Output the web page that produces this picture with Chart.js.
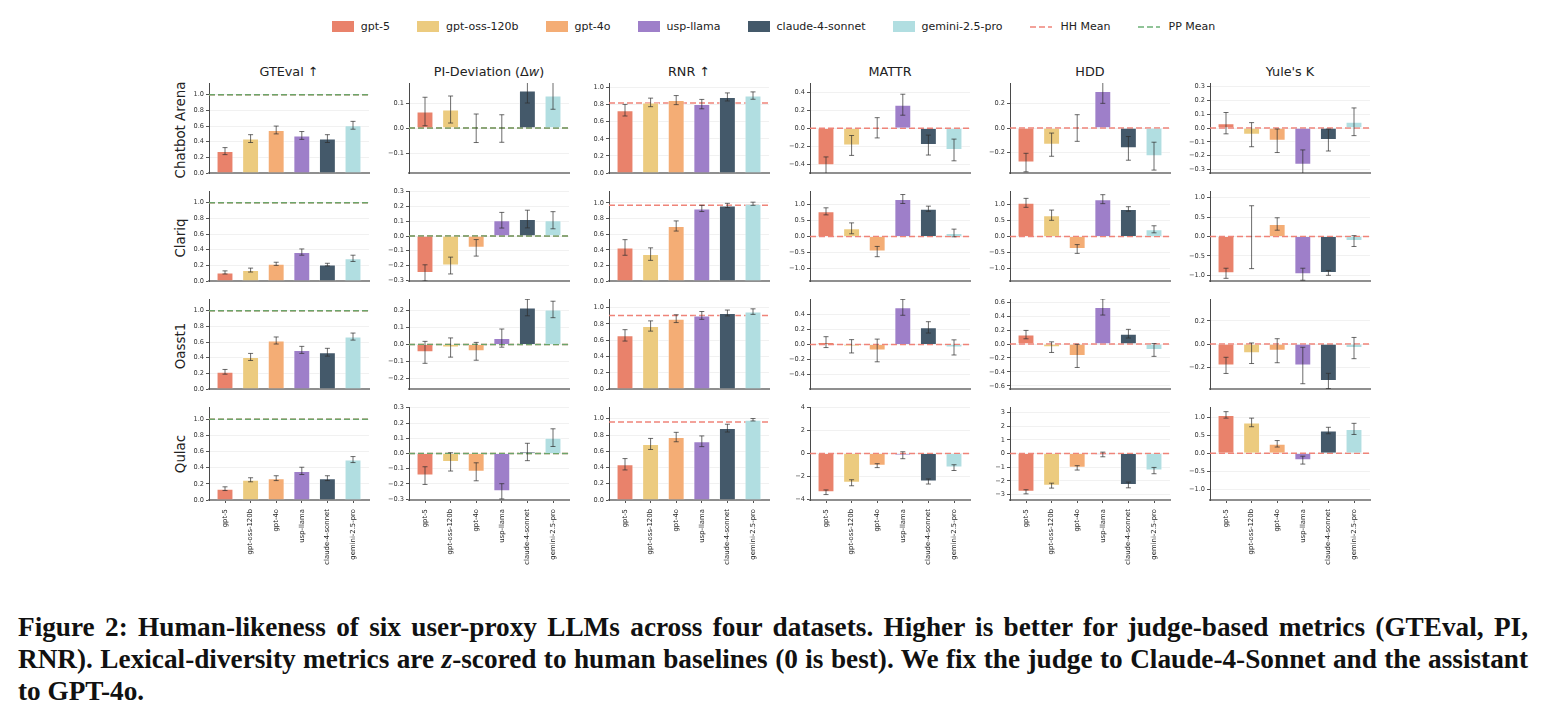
<!DOCTYPE html>
<html lang="en">
  <head>
    <meta charset="UTF-8" />
    <title>Human-likeness of user-proxy LLMs</title>
    <script src="https://cdn.jsdelivr.net/npm/chart.js"></script>
    <style>
      body { margin: 0; background: #fff; width: 1547px; height: 717px; position: relative; overflow: hidden; font-family: "DejaVu Sans", sans-serif; color: #222; }
      .legend { position: absolute; top: 20px; left: 0; width: 1547px; display: flex; justify-content: center; gap: 27px; font-size: 11px; }
      .legend .item { display: flex; align-items: center; }
      .legend .sw { width: 22px; height: 11px; margin-right: 7px; }
      .legend svg { margin-right: 9px; }
      .col-title { position: absolute; top: 64px; font-size: 12.8px; text-align: center; }
      .row-label { position: absolute; font-size: 13.4px; white-space: nowrap; transform: translate(-50%, -50%) rotate(-90deg); }
      canvas { position: absolute; }
      .caption { position: absolute; left: 18px; top: 611px; width: 1510px; font-family: "Liberation Serif", serif; font-weight: bold; line-height: 32px; color: #111; }
      .caption div { white-space: nowrap; }
      .caption .just { text-align: justify; text-align-last: justify; white-space: normal; }
    </style>
  </head>
  <body>
    <div class="legend" id="legend"></div>
    <div class="caption" id="caption">
      <div class="just">Figure 2: Human-likeness of six user-proxy LLMs across four datasets. Higher is better for judge-based metrics (GTEval, PI,</div>
      <div class="just">RNR). Lexical-diversity metrics are <i>z</i>-scored to human baselines (0 is best). We fix the judge to Claude-4-Sonnet and the assistant</div>
      <div>to GPT-4o.</div>
    </div>

    <script>
      // ---- data ----
      const models = ['gpt-5', 'gpt-oss-120b', 'gpt-4o', 'usp-llama', 'claude-4-sonnet', 'gemini-2.5-pro'];
      const modelColors = ['#E9826B', '#ECCB7F', '#F4AD75', '#9E7FC9', '#44596A', '#B1DEE1'];
      const datasetNames = ['Chatbot Arena', 'Clariq', 'Oasst1', 'Qulac'];

      // rows = datasets, columns = models
      const gtevalMean = [
        [0.28, 0.44, 0.55, 0.48, 0.44, 0.61],
        [0.11, 0.14, 0.22, 0.37, 0.21, 0.29],
        [0.22, 0.41, 0.62, 0.50, 0.47, 0.67],
        [0.14, 0.25, 0.27, 0.36, 0.27, 0.50]
      ];
      const gtevalErr = [
        [0.045, 0.05, 0.05, 0.05, 0.05, 0.05],
        [0.02, 0.025, 0.02, 0.04, 0.017, 0.04],
        [0.03, 0.045, 0.045, 0.045, 0.05, 0.045],
        [0.023, 0.025, 0.03, 0.045, 0.03, 0.037]
      ];
      const piMean = [
        [0.066, 0.074, -0.001, -0.002, 0.15, 0.13],
        [-0.25, -0.2, -0.08, 0.107, 0.115, 0.107],
        [-0.046, -0.018, -0.04, 0.037, 0.215, 0.204],
        [-0.145, -0.055, -0.12, -0.248, 0.01, 0.104]
      ];
      const piErr = [
        [0.057, 0.054, 0.057, 0.055, 0.05, 0.055],
        [0.055, 0.057, 0.056, 0.053, 0.06, 0.058],
        [0.064, 0.056, 0.052, 0.053, 0.048, 0.048],
        [0.058, 0.06, 0.059, 0.05, 0.057, 0.058]
      ];
      const rnrMean = [
        [0.735, 0.826, 0.853, 0.806, 0.89, 0.906],
        [0.43, 0.345, 0.705, 0.93, 0.968, 0.99],
        [0.66, 0.775, 0.865, 0.905, 0.935, 0.952],
        [0.44, 0.69, 0.775, 0.723, 0.885, 0.988]
      ];
      const rnrErr = [
        [0.068, 0.05, 0.053, 0.055, 0.047, 0.043],
        [0.1, 0.08, 0.065, 0.04, 0.027, 0.02],
        [0.07, 0.063, 0.048, 0.048, 0.036, 0.034],
        [0.07, 0.068, 0.058, 0.066, 0.048, 0.015]
      ];
      const mattrMean = [
        [-0.41, -0.19, 0.005, 0.26, -0.186, -0.24],
        [0.785, 0.255, -0.47, 1.17, 0.867, 0.11],
        [0.03, -0.025, -0.08, 0.49, 0.225, -0.04],
        [-3.35, -2.53, -1.05, -0.15, -2.42, -1.22]
      ];
      const mattrErr = [
        [0.093, 0.11, 0.112, 0.116, 0.11, 0.12],
        [0.11, 0.17, 0.16, 0.14, 0.08, 0.12],
        [0.072, 0.088, 0.15, 0.105, 0.075, 0.1],
        [0.2, 0.26, 0.17, 0.3, 0.22, 0.25]
      ];
      const hddMean = [
        [-0.28, -0.135, 0.0, 0.3, -0.165, -0.228],
        [1.05, 0.665, -0.39, 1.165, 0.86, 0.225],
        [0.135, -0.045, -0.17, 0.53, 0.148, -0.085],
        [-2.8, -2.35, -1.05, -0.07, -2.3, -1.25]
      ];
      const hddErr = [
        [0.075, 0.094, 0.108, 0.1, 0.096, 0.113],
        [0.14, 0.16, 0.137, 0.14, 0.07, 0.11],
        [0.06, 0.076, 0.166, 0.115, 0.062, 0.092],
        [0.15, 0.18, 0.16, 0.17, 0.21, 0.23]
      ];
      const yuleMean = [
        [0.035, -0.048, -0.092, -0.265, -0.087, 0.045],
        [-0.95, -0.02, 0.32, -0.975, -0.94, -0.12],
        [-0.185, -0.08, -0.058, -0.186, -0.32, -0.035],
        [1.07, 0.86, 0.265, -0.19, 0.635, 0.68]
      ];
      const yuleErr = [
        [0.077, 0.087, 0.085, 0.107, 0.079, 0.1],
        [0.13, 0.81, 0.16, 0.155, 0.063, 0.14],
        [0.07, 0.089, 0.104, 0.158, 0.066, 0.092],
        [0.09, 0.12, 0.09, 0.11, 0.09, 0.155]
      ];

      // reference means per dataset (null = not drawn)
      const gtevalHH = [1.0, 1.0, 1.0, 1.0];
      const gtevalPP = [1.0, 1.0, 1.0, 1.0];
      const piHH = [0, 0, 0, 0];
      const piPP = [0, 0, 0, 0];
      const rnrHH = [0.82, 0.97, 0.905, 0.96];
      const lexicalHH = [0, 0, 0, 0];
      const noLine = [null, null, null, null];

      // y tick labels and axis limits per dataset
      const gtevalTicks = [[0, 0.2, 0.4, 0.6, 0.8, 1.0], [0, 0.2, 0.4, 0.6, 0.8, 1.0], [0, 0.2, 0.4, 0.6, 0.8, 1.0], [0, 0.2, 0.4, 0.6, 0.8, 1.0]];
      const gtevalRange = [[0, 1.15], [0, 1.15], [0, 1.15], [0, 1.15]];
      const piTicks = [[-0.1, 0, 0.1], [-0.3, -0.2, -0.1, 0, 0.1, 0.2, 0.3], [-0.2, -0.1, 0, 0.1, 0.2], [-0.3, -0.2, -0.1, 0, 0.1, 0.2, 0.3]];
      const piRange = [[-0.18, 0.18], [-0.305, 0.305], [-0.26, 0.265], [-0.305, 0.305]];
      const rnrTicks = [[0, 0.2, 0.4, 0.6, 0.8, 1.0], [0, 0.2, 0.4, 0.6, 0.8, 1.0], [0, 0.2, 0.4, 0.6, 0.8, 1.0], [0, 0.2, 0.4, 0.6, 0.8, 1.0]];
      const rnrRange = [[0, 1.053], [0, 1.153], [0, 1.107], [0, 1.145]];
      const mattrTicks = [[-0.4, -0.2, 0, 0.2, 0.4], [-1, -0.5, 0, 0.5, 1], [-0.4, -0.2, 0, 0.2, 0.4], [-4, -2, 0, 2, 4]];
      const mattrRange = [[-0.495, 0.5], [-1.39, 1.42], [-0.59, 0.6], [-4.02, 4.02]];
      const hddTicks = [[-0.2, 0, 0.2], [-1, -0.5, 0, 0.5, 1], [-0.6, -0.4, -0.2, 0, 0.2, 0.4, 0.6], [-3, -2, -1, 0, 1, 2, 3]];
      const hddRange = [[-0.365, 0.365], [-1.39, 1.42], [-0.645, 0.645], [-3.4, 3.4]];
      const yuleTicks = [[-0.3, -0.2, -0.1, 0, 0.1, 0.2, 0.3], [-1, -0.5, 0, 0.5, 1], [-0.2, 0, 0.2], [-1, -0.5, 0, 0.5, 1]];
      const yuleRange = [[-0.325, 0.325], [-1.15, 1.17], [-0.39, 0.39], [-1.3, 1.29]];

      const metrics = [
        { title: 'GTEval ↑', mean: gtevalMean, err: gtevalErr, ticks: gtevalTicks, range: gtevalRange, hh: gtevalHH, pp: gtevalPP },
        { title: 'PI-Deviation (Δ<i>w</i>)', mean: piMean, err: piErr, ticks: piTicks, range: piRange, hh: piHH, pp: piPP },
        { title: 'RNR ↑', mean: rnrMean, err: rnrErr, ticks: rnrTicks, range: rnrRange, hh: rnrHH, pp: noLine },
        { title: 'MATTR', mean: mattrMean, err: mattrErr, ticks: mattrTicks, range: mattrRange, hh: lexicalHH, pp: noLine },
        { title: 'HDD', mean: hddMean, err: hddErr, ticks: hddTicks, range: hddRange, hh: lexicalHH, pp: noLine },
        { title: "Yule's K", mean: yuleMean, err: yuleErr, ticks: yuleTicks, range: yuleRange, hh: lexicalHH, pp: noLine }
      ];

      // ---- layout ----
      const PLOT_LEFT = 209, COL_STEP = 200.2, PLOT_W = 160;
      const PLOT_TOP = 83, ROW_STEP = 108, PLOT_H = 93;
      const Y_AXIS_W = 40, PAD_T = 6, X_LABEL_H = 72;
      const HH_COLOR = '#EF8479', PP_COLOR = 'rgba(92, 168, 104, 0.9)';

      Chart.defaults.font.family = '"DejaVu Sans", sans-serif';
      Chart.defaults.color = '#333';

      // dashed reference lines, behind the bars
      const refLinesPlugin = {
        id: 'refLines',
        beforeDatasetsDraw(chart, args, opts) {
          const { ctx, chartArea: a, scales: { y } } = chart;
          ctx.save();
          ctx.lineWidth = 1.5;
          ctx.setLineDash([6, 3]);
          [[opts.hh, HH_COLOR], [opts.pp, PP_COLOR]].forEach(([v, c]) => {
            if (v === null || v === undefined) return;
            const py = y.getPixelForValue(v);
            ctx.strokeStyle = c;
            ctx.beginPath();
            ctx.moveTo(a.left, py);
            ctx.lineTo(a.right, py);
            ctx.stroke();
          });
          ctx.restore();
        }
      };

      // error bars from dataset.errors, clipped to the plot
      const errorBarsPlugin = {
        id: 'errorBars',
        afterDatasetsDraw(chart) {
          const { ctx, chartArea: a, scales: { x, y } } = chart;
          const ds = chart.data.datasets[0];
          ctx.save();
          ctx.beginPath();
          ctx.rect(a.left, a.top, a.width, a.height);
          ctx.clip();
          ctx.strokeStyle = 'rgba(45, 45, 45, 0.7)';
          ctx.lineWidth = 1;
          ds.data.forEach((p, i) => {
            const px = x.getPixelForValue(p.x);
            const lo = y.getPixelForValue(p.y - ds.errors[i]);
            const hi = y.getPixelForValue(p.y + ds.errors[i]);
            ctx.beginPath();
            ctx.moveTo(px, lo); ctx.lineTo(px, hi);
            ctx.moveTo(px - 2.5, lo); ctx.lineTo(px + 2.5, lo);
            ctx.moveTo(px - 2.5, hi); ctx.lineTo(px + 2.5, hi);
            ctx.stroke();
          });
          ctx.restore();
        }
      };

      function fmtTick(v, ticks) {
        const ints = ticks.every(t => Number.isInteger(t));
        return (ints ? v.toFixed(0) : v.toFixed(1)).replace('-', '\u2212');
      }

      function makePanel(col, row) {
        const m = metrics[col];
        const last = row === datasetNames.length - 1;
        const ticks = m.ticks[row];
        const canvas = document.createElement('canvas');
        canvas.width = Y_AXIS_W + PLOT_W + 2;
        canvas.height = PAD_T + PLOT_H + (last ? X_LABEL_H : 3);
        canvas.style.left = Math.round(PLOT_LEFT + col * COL_STEP - Y_AXIS_W) + 'px';
        canvas.style.top = (PLOT_TOP + row * ROW_STEP - PAD_T) + 'px';
        document.body.appendChild(canvas);

        new Chart(canvas, {
          type: 'bar',
          data: {
            datasets: [{
              data: models.map((_, i) => ({ x: i, y: m.mean[row][i] })),
              errors: m.err[row],
              backgroundColor: modelColors,
              borderColor: 'rgba(255, 255, 255, 0.55)',
              borderWidth: 1,
              barPercentage: 0.66,
              categoryPercentage: 1
            }]
          },
          options: {
            responsive: false,
            animation: false,
            layout: { padding: { top: PAD_T, right: 2, left: 0, bottom: 0 } },
            plugins: {
              legend: { display: false },
              tooltip: { enabled: false },
              refLines: { hh: m.hh[row], pp: m.pp[row] }
            },
            scales: {
              x: {
                type: 'linear',
                offset: false,
                min: -0.625,
                max: 5.625,
                afterBuildTicks: ax => { ax.ticks = models.map((_, i) => ({ value: i })); },
                afterFit: s => { s.height = last ? X_LABEL_H : 0; },
                grid: { display: last, offset: false, drawOnChartArea: false, tickLength: 3, tickColor: '#555' },
                border: { display: true, color: '#8f8f8f', width: 2 },
                ticks: {
                  display: last, autoSkip: false, minRotation: 90, maxRotation: 90, padding: 6,
                  color: '#222', font: { size: 6.9 },
                  callback: v => models[v]
                }
              },
              y: {
                min: m.range[row][0],
                max: m.range[row][1],
                afterBuildTicks: ax => { ax.ticks = ticks.map(v => ({ value: v })); },
                afterFit: s => { s.width = Y_AXIS_W; },
                grid: { color: '#f1f1f1', tickLength: 3, tickColor: '#555' },
                border: { color: '#4a4a4a', width: 1 },
                ticks: { color: '#333', padding: 2, font: { size: 6.6 }, callback: v => fmtTick(v, ticks) }
              }
            }
          },
          plugins: [refLinesPlugin, errorBarsPlugin]
        });
      }

      // column titles
      metrics.forEach((m, c) => {
        const d = document.createElement('div');
        d.className = 'col-title';
        d.style.left = Math.round(PLOT_LEFT + c * COL_STEP) + 'px';
        d.style.width = PLOT_W + 'px';
        d.innerHTML = m.title;
        document.body.appendChild(d);
      });

      // row labels
      datasetNames.forEach((name, r) => {
        const d = document.createElement('div');
        d.className = 'row-label';
        d.style.left = '180px';
        d.style.top = (PLOT_TOP + r * ROW_STEP + PLOT_H / 2) + 'px';
        d.textContent = name;
        document.body.appendChild(d);
      });

      for (let r = 0; r < datasetNames.length; r++) {
        for (let c = 0; c < metrics.length; c++) makePanel(c, r);
      }

      // figure legend
      const legend = document.getElementById('legend');
      models.forEach((name, i) => {
        legend.insertAdjacentHTML('beforeend',
          `<div class="item"><span class="sw" style="background:${modelColors[i]}"></span>${name}</div>`);
      });
      [['HH Mean', HH_COLOR], ['PP Mean', PP_COLOR]].forEach(([name, color]) => {
        legend.insertAdjacentHTML('beforeend',
          `<div class="item"><svg width="22" height="6"><line x1="0" y1="3" x2="22" y2="3" stroke="${color}" stroke-width="1.5" stroke-dasharray="6 3"/></svg>${name}</div>`);
      });

      // caption font size fitted to the caption width
      const cap = document.getElementById('caption');
      const mctx = document.createElement('canvas').getContext('2d');
      mctx.font = 'bold 100px "Liberation Serif"';
      const lines = [...cap.querySelectorAll('.just')].map(el => mctx.measureText(el.textContent).width);
      const size = Math.min(...lines.map(w => 100 * 1500 / w));
      cap.style.fontSize = size.toFixed(2) + 'px';
    </script>
  </body>
</html>
